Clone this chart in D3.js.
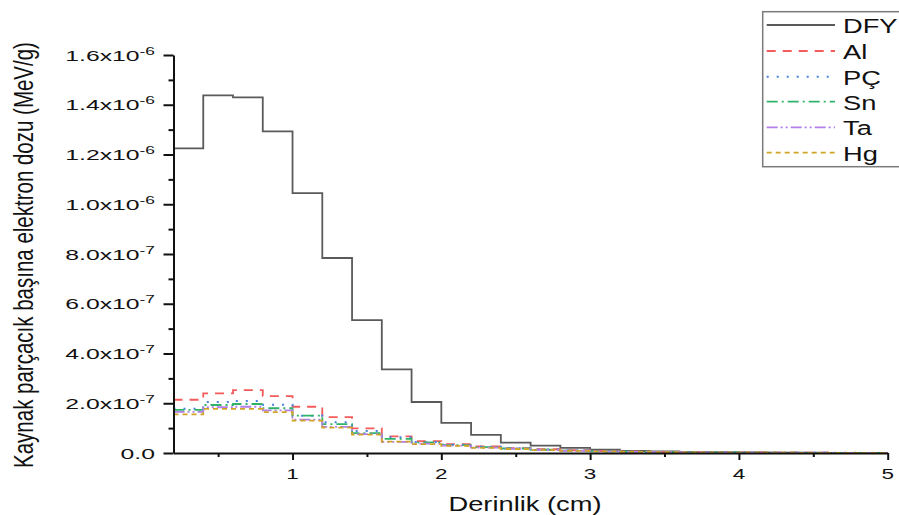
<!DOCTYPE html>
<html><head><meta charset="utf-8">
<script src="https://cdn.jsdelivr.net/npm/d3@7/dist/d3.min.js"></script>
<style>
body{margin:0;background:#fff}
svg{display:block}
text{font-family:"Liberation Sans",Arial,sans-serif;fill:#111}
</style>
</head><body>
<svg id="chart" width="899" height="515"></svg>
<script>
// ---- data ----
const binStart = [0.2,0.4,0.6,0.8,1.0,1.2,1.4,1.6,1.8,2.0,2.2,2.4,2.6,2.8,3.0,3.2,3.4,3.6,3.8,4.0,4.2,4.4,4.6,4.8];
const binEnd = 5.0;
const seriesNames = ["DFY","Al","PÇ","Sn","Ta","Hg"];
const dfyValues = [12.25e-7,14.38e-7,14.30e-7,12.93e-7,10.45e-7,7.84e-7,5.34e-7,3.36e-7,2.05e-7,1.21e-7,0.73e-7,0.42e-7,0.30e-7,0.21e-7,0.13e-7,0.08e-7,0.06e-7,0.04e-7,0.03e-7,0.02e-7,0.015e-7,0.01e-7,0.008e-7,0.006e-7];
const alValues  = [2.14e-7,2.40e-7,2.53e-7,2.29e-7,1.86e-7,1.44e-7,0.99e-7,0.67e-7,0.48e-7,0.36e-7,0.27e-7,0.20e-7,0.15e-7,0.11e-7,0.08e-7,0.06e-7,0.045e-7,0.035e-7,0.025e-7,0.02e-7,0.015e-7,0.01e-7,0.008e-7,0.006e-7];
const pcValues  = [1.78e-7,2.05e-7,2.09e-7,1.94e-7,1.50e-7,1.24e-7,0.88e-7,0.63e-7,0.44e-7,0.33e-7,0.25e-7,0.19e-7,0.14e-7,0.10e-7,0.075e-7,0.055e-7,0.04e-7,0.03e-7,0.022e-7,0.017e-7,0.012e-7,0.009e-7,0.007e-7,0.005e-7];
const snValues  = [1.73e-7,1.93e-7,1.97e-7,1.80e-7,1.50e-7,1.16e-7,0.80e-7,0.57e-7,0.43e-7,0.32e-7,0.24e-7,0.18e-7,0.13e-7,0.095e-7,0.07e-7,0.05e-7,0.038e-7,0.028e-7,0.02e-7,0.015e-7,0.011e-7,0.008e-7,0.006e-7,0.005e-7];
const taValues  = [1.65e-7,1.84e-7,1.86e-7,1.71e-7,1.34e-7,1.05e-7,0.76e-7,0.45e-7,0.38e-7,0.30e-7,0.22e-7,0.17e-7,0.12e-7,0.09e-7,0.065e-7,0.048e-7,0.035e-7,0.026e-7,0.019e-7,0.014e-7,0.01e-7,0.008e-7,0.006e-7,0.004e-7];
const hgValues  = [1.55e-7,1.77e-7,1.77e-7,1.64e-7,1.30e-7,1.02e-7,0.74e-7,0.46e-7,0.36e-7,0.29e-7,0.21e-7,0.16e-7,0.115e-7,0.085e-7,0.062e-7,0.045e-7,0.033e-7,0.025e-7,0.018e-7,0.013e-7,0.01e-7,0.007e-7,0.005e-7,0.004e-7];
const xTicks = [1,2,3,4,5];
const xMinorTicks = [0.5,1.5,2.5,3.5,4.5];
const yTicks = [0,2e-7,4e-7,6e-7,8e-7,1.0e-6,1.2e-6,1.4e-6,1.6e-6];
const yMinorTicks = [1e-7,3e-7,5e-7,7e-7,9e-7,1.1e-6,1.3e-6,1.5e-6];
const xTitle = "Derinlik (cm)";
const yTitle = "Kaynak parçacık başına elektron dozu (MeV/g)";

// ---- styles ----
const styles = {
  "DFY": {color:"#5a5a5a", dash:null, w:1.8},
  "Al":  {color:"#f45b5b", dash:"9,7", w:1.8},
  "PÇ":  {color:"#4a80e0", dash:"2,8", w:2},
  "Sn":  {color:"#2fb36a", dash:"11,4,2,4", w:1.8},
  "Ta":  {color:"#b47fe6", dash:"11,3,2,3,2,3", w:1.8},
  "Hg":  {color:"#d0a425", dash:"5,4", w:1.8}
};
const allValues = [dfyValues, alValues, pcValues, snValues, taValues, hgValues];

const svg = d3.select("#chart");
svg.append("rect").attr("width",899).attr("height",515).attr("fill","#fff");

const x = d3.scaleLinear().domain([0.2,5]).range([173.5,887.7]);
const y = d3.scaleLinear().domain([0,1.6e-6]).range([453,55]);

// series
const line = d3.line().x(d=>x(d[0])).y(d=>y(d[1])).curve(d3.curveStepAfter);
seriesNames.forEach((name,i)=>{
  const vals = allValues[i];
  const pts = binStart.map((b,j)=>[b, vals[j]]);
  pts.push([binEnd, vals[vals.length-1]]);
  const st = styles[name];
  svg.append("path").datum(pts)
    .attr("d", line)
    .attr("fill","none")
    .attr("stroke", st.color)
    .attr("stroke-width", st.w)
    .attr("stroke-dasharray", st.dash)
    .attr("stroke-linejoin","miter");
});

// axes
const axisColor = "#111";
const gx = svg.append("g").attr("transform","translate(0,453)");
gx.call(d3.axisBottom(x).tickValues(xTicks).tickSize(7).tickSizeOuter(0).tickFormat(""));
gx.append("g").call(d3.axisBottom(x).tickValues(xMinorTicks).tickSize(4).tickFormat(""))
  .select(".domain").remove();
gx.selectAll("path,line").attr("stroke",axisColor).attr("stroke-width",2);

const gy = svg.append("g").attr("transform","translate(173.5,0)");
gy.call(d3.axisLeft(y).tickValues(yTicks).tickSize(10).tickSizeOuter(0).tickFormat(""));
gy.append("g").call(d3.axisLeft(y).tickValues(yMinorTicks).tickSize(5).tickFormat(""))
  .select(".domain").remove();
gy.selectAll("path,line").attr("stroke",axisColor).attr("stroke-width",2);

const SX = 1.5; // horizontal stretch of the reference's lettering

// y tick labels
yTicks.forEach(v=>{
  const t = svg.append("text")
    .attr("transform",`translate(155,${y(v)+5.5}) scale(1.65,1)`)
    .attr("text-anchor","end").style("font-size","15px");
  if (v === 0) { t.text("0.0"); return; }
  const e = Math.floor(Math.log10(v) + 1e-9);
  const m = v / Math.pow(10,e);
  t.append("tspan").text(m.toFixed(1) + "x10");
  t.append("tspan").attr("dy",-6).style("font-size","10.5px").text(String(e));
});

// x tick labels
xTicks.forEach(v=>{
  svg.append("text")
    .attr("transform",`translate(${x(v)},479) scale(${SX},1)`)
    .attr("text-anchor","middle").style("font-size","15px").text(String(v));
});

// axis titles
svg.append("text")
  .attr("transform","translate(525,511) scale(1.4,1)")
  .attr("text-anchor","middle").style("font-size","19.5px").text(xTitle);
svg.append("text")
  .attr("transform","translate(33,255) scale(1.36,1) rotate(-90)")
  .attr("text-anchor","middle").style("font-size","20.5px").text(yTitle);

// legend
const lg = svg.append("g");
lg.append("rect").attr("x",762.7).attr("y",11.7).attr("width",200).attr("height",155)
  .attr("fill","#fff").attr("stroke","#7a7a7a").attr("stroke-width",1.5);
const rowY = [25,51,76.7,101.7,127.3,152.7];
seriesNames.forEach((name,i)=>{
  const st = styles[name];
  lg.append("line").attr("x1",766.7).attr("x2",835).attr("y1",rowY[i]).attr("y2",rowY[i])
    .attr("stroke",st.color).attr("stroke-width",st.w).attr("stroke-dasharray",st.dash);
  lg.append("text").attr("transform",`translate(843,${rowY[i]+8}) scale(1.3,1)`)
    .style("font-size","21px").text(name);
});
</script>
</body></html>
